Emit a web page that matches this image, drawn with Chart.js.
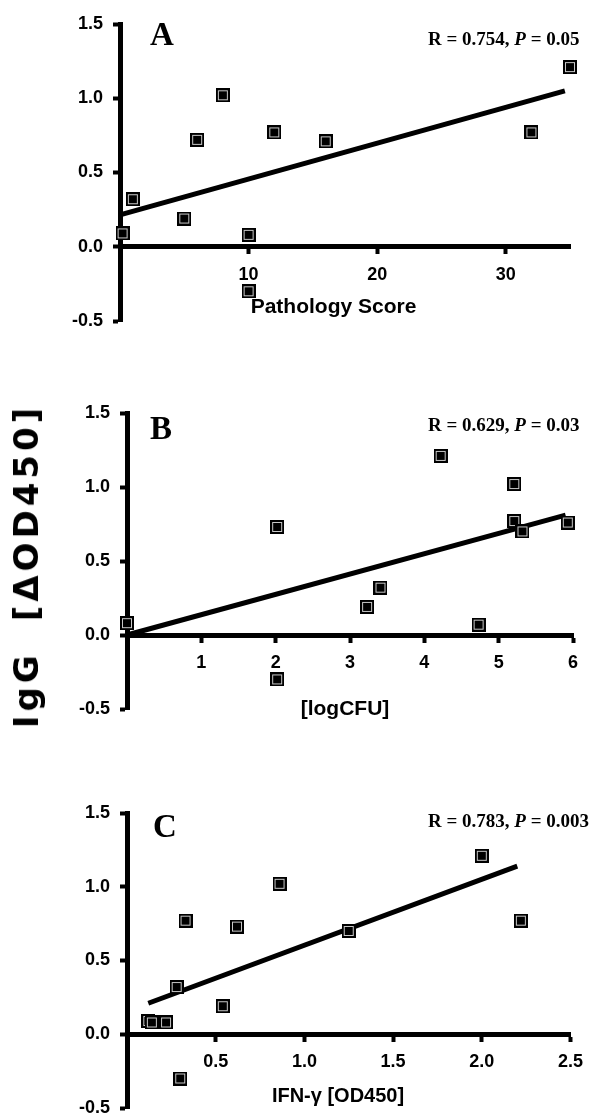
<!DOCTYPE html>
<html><head><meta charset="utf-8">
<script src="https://cdn.jsdelivr.net/npm/chart.js@4/dist/chart.umd.min.js"></script>
<style>
html,body{margin:0;padding:0;background:#fff;overflow:hidden;}
#wrap{position:relative;width:597px;height:1117px;overflow:hidden;background:#fff;}
canvas{position:absolute;left:0;}
#ytitle{position:absolute;left:26px;top:566px;transform:translate(-50%,-50%) rotate(-90deg);font:bold 34px "DejaVu Sans";line-height:34px;white-space:nowrap;letter-spacing:4px;color:#000;}
</style></head><body>
<div id="wrap">
<canvas id="cA" width="597" height="360" style="top:0px"></canvas>
<canvas id="cB" width="597" height="360" style="top:380px"></canvas>
<canvas id="cC" width="597" height="390" style="top:757px"></canvas>
<div id="ytitle"><span>IgG</span><span style="margin-left:30px">[ΔOD450]</span></div>
</div>
<script>
// ---- data ----
const pathScore = [0.2, 1, 5, 6, 8, 10, 10, 12, 16, 32, 35];
const pathIgG   = [0.09, 0.32, 0.19, 0.72, 1.02, 0.08, -0.30, 0.77, 0.71, 0.77, 1.21];
const trendPathX = [0, 34.6];
const trendPathY = [0.215, 1.05];

const logCFU    = [0, 2.02, 2.02, 3.23, 3.41, 4.22, 4.73, 5.21, 5.21, 5.32, 5.93];
const cfuIgG    = [0.08, 0.73, -0.30, 0.19, 0.32, 1.21, 0.07, 1.02, 0.77, 0.70, 0.76];
const trendCfuX = [0, 5.9];
const trendCfuY = [0.0, 0.81];

const ifnOD     = [0.12, 0.14, 0.22, 0.28, 0.30, 0.33, 0.54, 0.62, 0.86, 1.25, 2.00, 2.22];
const ifnIgG    = [0.09, 0.08, 0.08, 0.32, -0.30, 0.77, 0.19, 0.73, 1.02, 0.70, 1.21, 0.77];
const trendIfnX = [0.12, 2.2];
const trendIfnY = [0.21, 1.14];

const yTicks = [-0.5, 0.0, 0.5, 1.0, 1.5];

// ---- helpers ----
function makeMarker(){
  const c = document.createElement('canvas'); c.width = 14; c.height = 14;
  const g = c.getContext('2d');
  g.fillStyle = '#000'; g.fillRect(0,0,14,14);
  g.strokeStyle = '#c8c8c8'; g.lineWidth = 1; g.strokeRect(2.5,2.5,9,9);
  return c;
}
const marker = makeMarker();

const textPlugin = {
  id: 'texts',
  afterDraw(chart, args, opts){
    const ctx = chart.ctx; ctx.save(); ctx.fillStyle = '#000'; ctx.textBaseline = 'alphabetic'; ctx.textAlign = 'left';
    (opts.items || []).forEach(it => {
      let x = it.x;
      if (it.align === 'center') {
        const w = it.parts.reduce((s,p) => { ctx.font = p.font; return s + ctx.measureText(p.t).width; }, 0);
        x -= w/2;
      }
      it.parts.forEach(p => { ctx.font = p.font; ctx.fillText(p.t, x, it.y); x += ctx.measureText(p.t).width; });
    });
    ctx.restore();
  }
};

const tickFont = {family: '"Liberation Sans", Arial, sans-serif', weight: 'bold', size: 18, lineHeight: 1};
const serif = '"Liberation Serif", "Times New Roman", serif';
const sans = '"Liberation Sans", Arial, sans-serif';

function build(id, xs, ys, tx, ty, xcfg, pad, yWidth, items){
  const pts = xs.map((x,i) => ({x, y: ys[i]}));
  const line = tx.map((x,i) => ({x, y: ty[i]}));
  return new Chart(document.getElementById(id), {
    type: 'scatter',
    data: {datasets: [
      {data: line, showLine: true, borderColor: '#000', borderWidth: 5, pointRadius: 0, pointHoverRadius: 0, borderCapStyle: 'butt', clip: false, order: 2},
      {data: pts, pointStyle: marker, pointRadius: 7, pointHoverRadius: 7, clip: false, order: 1}
    ]},
    options: {
      responsive: false, animation: false, devicePixelRatio: 1,
      layout: {padding: pad},
      events: [],
      plugins: {legend: {display: false}, tooltip: {enabled: false}, texts: {items}},
      scales: {
        x: {
          type: 'linear', position: {y: 0}, min: 0, max: xcfg.max,
          ticks: {stepSize: xcfg.step, includeBounds: false, autoSkip: false, maxRotation: 0,
                  callback: v => v === 0 ? '' : xcfg.fmt(v), font: tickFont, color: '#000', padding: 14},
          grid: {drawOnChartArea: false, drawTicks: true, tickLength: 5, tickWidth: 4, tickColor: '#000'},
          border: {display: true, width: 5, color: '#000'}
        },
        y: {
          type: 'linear', position: 'left', min: -0.5, max: 1.5,
          afterBuildTicks: s => { s.ticks = yTicks.map(v => ({value: v})); },
          ticks: {callback: v => v.toFixed(1), font: tickFont, color: '#000', padding: 10},
          grid: {drawOnChartArea: false, drawTicks: true, tickLength: 7, tickWidth: 4, tickColor: '#000'},
          border: {display: true, width: 5, color: '#000'},
          afterFit: s => { s.width = yWidth; }
        }
      }
    },
    plugins: [textPlugin]
  });
}

function rText(y, r, p){
  return {x: 428, y, parts: [
    {t: 'R = ' + r + ', ', font: 'bold 19px ' + serif},
    {t: 'P', font: 'italic bold 19px ' + serif},
    {t: ' = ' + p, font: 'bold 19px ' + serif}
  ]};
}

build('cA', pathScore, pathIgG, trendPathX, trendPathY,
  {max: 35, step: 10, fmt: v => String(v)},
  {left: 0, top: 24, right: 27, bottom: 39}, 120,
  [
    {x: 150, y: 45, parts: [{t: 'A', font: 'bold 33px ' + serif}]},
    rText(45, '0.754', '0.05'),
    {x: 333.5, y: 313, align: 'center', parts: [{t: 'Pathology Score', font: 'bold 21px ' + sans}]}
  ]);

build('cB', logCFU, cfuIgG, trendCfuX, trendCfuY,
  {max: 6, step: 1, fmt: v => String(v)},
  {left: 0, top: 33, right: 24, bottom: 31}, 127,
  [
    {x: 150, y: 59, parts: [{t: 'B', font: 'bold 33px ' + serif}]},
    rText(51, '0.629', '0.03'),
    {x: 345, y: 335, align: 'center', parts: [{t: '[logCFU]', font: 'bold 21px ' + sans}]}
  ]);

build('cC', ifnOD, ifnIgG, trendIfnX, trendIfnY,
  {max: 2.5, step: 0.5, fmt: v => v.toFixed(1)},
  {left: 0, top: 56, right: 26, bottom: 39}, 127,
  [
    {x: 153, y: 80, parts: [{t: 'C', font: 'bold 33px ' + serif}]},
    rText(70, '0.783', '0.003'),
    {x: 338, y: 345, align: 'center', parts: [{t: 'IFN-γ [OD450]', font: 'bold 20px ' + sans}]}
  ]);
</script>
</body></html>
